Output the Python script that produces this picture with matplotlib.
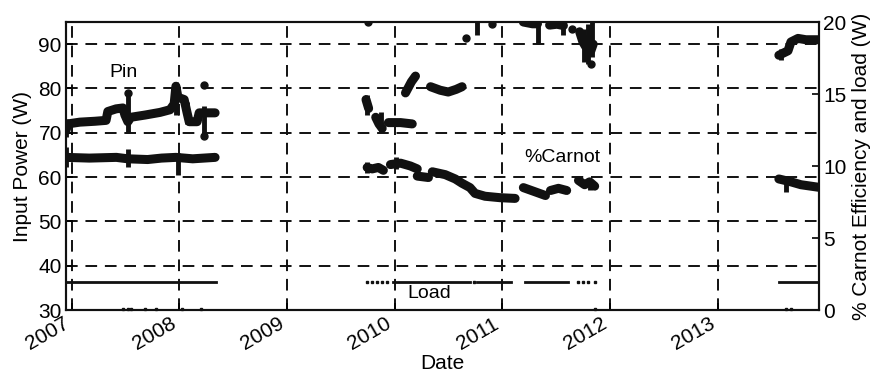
import matplotlib
matplotlib.use("Agg")
import matplotlib.pyplot as plt
import matplotlib.dates as mdates
import pandas as pd

plt.rcParams['font.family'] = ['Liberation Sans', 'DejaVu Sans']
plt.rcParams['font.size'] = 14

# ---- input power Pin (left axis, W) ----
pin_2007_dates = ['2006-12-12', '2006-12-18', '2007-01-28', '2007-03-20', '2007-04-27', '2007-05-03',
                  '2007-05-31', '2007-06-23', '2007-06-30', '2007-07-10', '2007-07-20', '2007-09-06',
                  '2007-10-27', '2007-11-30', '2007-12-14', '2007-12-20', '2007-12-27', '2008-01-17',
                  '2008-01-27', '2008-02-03', '2008-03-01', '2008-03-08', '2008-05-01']
pin_2007_vals = [70.5, 72.0, 72.4, 72.6, 72.8, 74.8, 75.4, 75.6, 74.0, 72.5, 73.5, 74.0,
                 74.6, 75.2, 76.5, 80.5, 78.0, 77.5, 74.5, 72.5, 72.5, 74.5, 74.5]

pin_2009a_dates = ['2009-09-25', '2009-10-04']
pin_2009a_vals = [77.5, 75.5]
pin_2009b_dates = ['2009-10-28', '2009-11-08', '2009-11-19']
pin_2009b_vals = [73.5, 72.0, 71.0]
pin_2010a_dates = ['2009-12-10', '2010-01-20', '2010-03-01']
pin_2010a_vals = [72.3, 72.3, 72.0]
pin_2010b_dates = ['2010-02-06', '2010-02-26', '2010-03-12']
pin_2010b_vals = [79.0, 81.5, 82.8]
pin_2010c_dates = ['2010-05-02', '2010-06-04', '2010-07-01', '2010-07-28', '2010-08-17']
pin_2010c_vals = [80.4, 79.6, 79.2, 79.8, 80.4]
pin_2011_dates = ['2011-03-13', '2011-04-13', '2011-04-30']
pin_2011_vals = [95.0, 94.6, 94.6]
pin_2011b_dates = ['2011-06-10', '2011-07-05', '2011-07-27']
pin_2011b_vals = [94.3, 94.5, 94.2]
pin_2011c_dates = ['2011-09-20', '2011-10-01', '2011-10-10', '2011-10-20', '2011-10-28', '2011-11-05']
pin_2011c_vals = [92.8, 90.5, 89.5, 91.0, 88.5, 90.0]
pin_2013_dates = ['2013-07-27', '2013-08-27', '2013-09-06', '2013-09-30', '2013-10-27', '2013-12-17']
pin_2013_vals = [87.5, 88.5, 90.5, 91.3, 91.0, 91.0]

pin_dot_dates = ['2007-07-12', '2008-03-25', '2008-03-25', '2009-10-01', '2010-08-31',
                 '2010-11-28', '2011-08-24', '2011-10-30']
pin_dot_vals = [79.0, 80.8, 69.3, 95.0, 91.4, 94.5, 93.4, 85.5]

pin_spike_dates = ['2006-12-12', '2007-07-10', '2007-12-20', '2008-01-28', '2008-03-25', '2009-09-29',
                   '2009-11-15', '2010-10-08', '2011-04-30', '2011-07-27', '2011-10-05', '2011-10-20',
                   '2011-11-02', '2013-08-02']
pin_spike_lo = [69.0, 70.0, 74.0, 72.0, 70.0, 74.0, 70.2, 92.0, 90.0, 92.0, 86.0, 85.5, 87.0, 86.5]
pin_spike_hi = [73.0, 78.5, 81.5, 77.0, 76.0, 78.5, 74.7, 95.0, 95.0, 95.0, 93.5, 94.5, 95.0, 89.0]

# ---- % Carnot efficiency (right axis) ----
car_2007_dates = ['2006-12-12', '2007-03-01', '2007-06-01', '2007-07-10', '2007-09-15', '2007-11-01',
                  '2007-12-20', '2008-02-15', '2008-05-01']
car_2007_vals = [10.6, 10.55, 10.6, 10.5, 10.45, 10.55, 10.6, 10.5, 10.6]
car_2010a_dates = ['2009-09-29', '2009-10-16', '2009-11-06', '2009-11-23']
car_2010a_vals = [9.9, 9.8, 9.9, 9.7]
car_2010b_dates = ['2009-12-17', '2010-01-20', '2010-02-23', '2010-03-18']
car_2010b_vals = [10.1, 10.2, 10.0, 9.8]
car_2010c_dates = ['2010-03-18', '2010-04-25']
car_2010c_vals = [9.3, 9.2]
car_2010d_dates = ['2010-05-08', '2010-06-21', '2010-07-25', '2010-08-17', '2010-09-13', '2010-09-30',
                   '2010-11-03', '2010-12-24', '2011-02-13']
car_2010d_vals = [9.6, 9.4, 9.1, 8.8, 8.5, 8.1, 7.9, 7.8, 7.75]
car_2011a_dates = ['2011-03-13', '2011-04-23', '2011-05-27']
car_2011a_vals = [8.5, 8.2, 7.95]
car_2011b_dates = ['2011-06-13', '2011-07-10', '2011-08-07']
car_2011b_vals = [8.3, 8.45, 8.3]
car_2011c_dates = ['2011-09-16', '2011-10-07', '2011-10-24', '2011-11-10']
car_2011c_vals = [9.0, 8.7, 8.9, 8.6]
car_2013_dates = ['2013-07-27', '2013-09-06', '2013-10-10', '2013-11-13', '2013-12-17']
car_2013_vals = [9.1, 8.9, 8.7, 8.6, 8.5]

car_spike_dates = ['2006-12-12', '2007-07-10', '2007-12-28', '2009-09-29', '2010-01-05',
                   '2011-10-24', '2013-08-20']
car_spike_lo = [9.9, 9.9, 9.4, 9.5, 9.8, 8.3, 8.2]
car_spike_hi = [11.3, 11.2, 10.9, 10.3, 10.6, 9.1, 9.3]

# ---- load (right axis, W) ----
load_segments = [
    (['2006-12-12', '2008-05-04'], [1.97, 1.97]),
    (['2009-12-26', '2010-09-13'], [1.97, 1.97]),
    (['2010-10-08', '2011-01-30'], [1.97, 1.97]),
    (['2011-03-20', '2011-08-10'], [1.97, 1.97]),
    (['2013-07-27', '2013-12-06'], [1.97, 1.97]),
]
load_dot_dates = ['2009-09-29', '2009-10-15', '2009-11-01', '2009-11-20', '2009-12-06',
                  '2010-09-25', '2011-09-16', '2011-09-30', '2011-10-20', '2011-11-10']
load_dot_vals = [1.97] * 10
load_low_dates = ['2007-06-25', '2007-07-10', '2007-07-20', '2007-09-05', '2007-10-15', '2008-01-10',
                  '2008-03-15', '2011-11-10', '2013-08-20', '2013-09-05']
load_low_vals = [0.1] * 10

K = '#111111'

fig = plt.figure(figsize=(8.74, 3.77), dpi=100)
ax = fig.add_axes([0.0755, 0.1777, 0.937 - 0.0755, 0.9416 - 0.1777])
ax2 = ax.twinx()

def seg(a, d, v, lw=6.5):
    a.plot(pd.to_datetime(d), v, color=K, lw=lw, solid_capstyle='round', solid_joinstyle='round')

for d, v in [(pin_2007_dates, pin_2007_vals), (pin_2009a_dates, pin_2009a_vals),
             (pin_2009b_dates, pin_2009b_vals), (pin_2010a_dates, pin_2010a_vals),
             (pin_2010b_dates, pin_2010b_vals), (pin_2010c_dates, pin_2010c_vals),
             (pin_2011_dates, pin_2011_vals), (pin_2011b_dates, pin_2011b_vals),
             (pin_2011c_dates, pin_2011c_vals), (pin_2013_dates, pin_2013_vals)]:
    seg(ax, d, v)
ax.plot(pd.to_datetime(pin_dot_dates), pin_dot_vals, 'o', color=K, ms=5)
ax.vlines(pd.to_datetime(pin_spike_dates), pin_spike_lo, pin_spike_hi, color=K, lw=3.5)

for d, v in [(car_2007_dates, car_2007_vals), (car_2010a_dates, car_2010a_vals),
             (car_2010b_dates, car_2010b_vals), (car_2010c_dates, car_2010c_vals),
             (car_2010d_dates, car_2010d_vals), (car_2011a_dates, car_2011a_vals),
             (car_2011b_dates, car_2011b_vals), (car_2011c_dates, car_2011c_vals),
             (car_2013_dates, car_2013_vals)]:
    seg(ax2, d, v)
ax2.vlines(pd.to_datetime(car_spike_dates), car_spike_lo, car_spike_hi, color=K, lw=3.5)

for d, v in load_segments:
    ax2.plot(pd.to_datetime(d), v, color=K, lw=2)
ax2.plot(pd.to_datetime(load_dot_dates), load_dot_vals, 's', color=K, ms=2)
ax2.plot(pd.to_datetime(load_low_dates), load_low_vals, 's', color=K, ms=2, clip_on=False)

# axes, ticks, grid
ax.set_xlim(pd.Timestamp('2006-12-12'), pd.Timestamp('2013-12-10'))
ax.set_ylim(30, 95)
ax.set_yticks([30, 40, 50, 60, 70, 80, 90])
ax2.set_ylim(0, 20)
ax2.set_yticks([0, 5, 10, 15, 20])
ax.xaxis.set_major_locator(mdates.YearLocator())
ax.xaxis.set_major_formatter(mdates.DateFormatter('%Y'))
for lab in ax.get_xticklabels():
    lab.set_rotation(30)
    lab.set_ha('right')
ax.grid(True, color=K, lw=1.4, linestyle=(0, (6, 4)))
ax.tick_params(direction='in', length=5, width=1.2, labelsize=15, pad=3)
ax2.tick_params(direction='in', length=5, width=1.2, labelsize=15, pad=3)
for a in (ax, ax2):
    for s in a.spines.values():
        s.set_linewidth(1.5)
        s.set_color(K)

ax.set_ylabel('Input Power (W)', fontsize=15, labelpad=5)
ax2.set_ylabel('% Carnot Efficiency and load (W)', fontsize=15, labelpad=4)
ax.set_xlabel('Date', fontsize=15, labelpad=0)

ax.text(0.077, 0.823, 'Pin', transform=ax.transAxes, ha='center', va='center', fontsize=14)
ax.text(0.659, 0.528, '%Carnot', transform=ax.transAxes, ha='center', va='center', fontsize=14)
ax.text(0.483, 0.059, 'Load', transform=ax.transAxes, ha='center', va='center', fontsize=14)

fig.savefig('out.png', dpi=100)
